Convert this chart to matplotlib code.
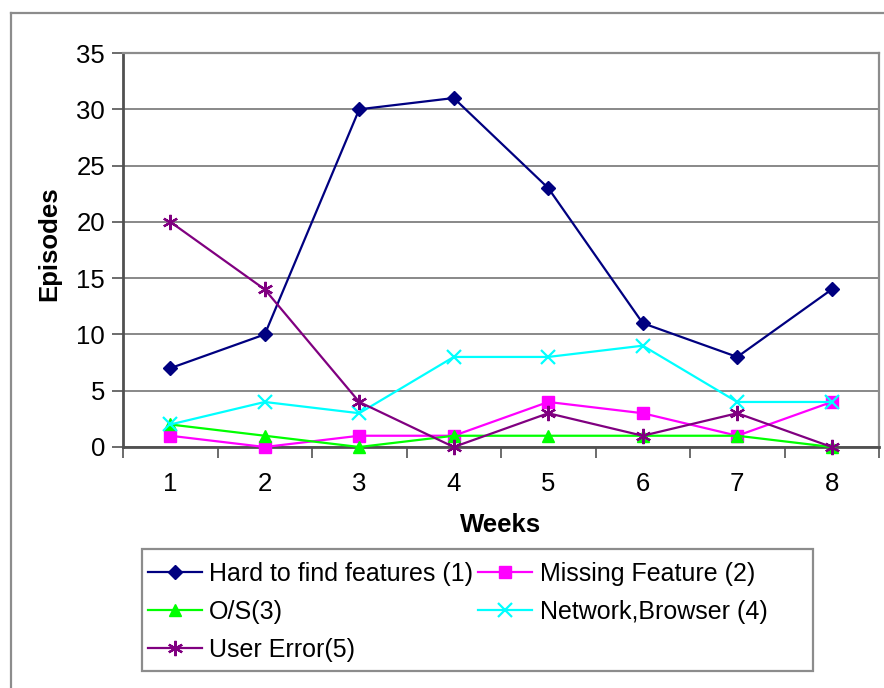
import numpy as np
import matplotlib
matplotlib.use("Agg")
import matplotlib.pyplot as plt
from matplotlib.lines import Line2D
from matplotlib.patches import Rectangle

plt.rcParams["font.family"] = ["Liberation Sans", "DejaVu Sans"]

weeks = [1, 2, 3, 4, 5, 6, 7, 8]
hard_to_find = [7, 10, 30, 31, 23, 11, 8, 14]
missing_feature = [1, 0, 1, 1, 4, 3, 1, 4]
os_problems = [2, 1, 0, 1, 1, 1, 1, 0]
network_browser = [2, 4, 3, 8, 8, 9, 4, 4]
user_error = [20, 14, 4, 0, 3, 1, 3, 0]

series = [
    ("Hard to find features (1)", hard_to_find, "#000080", "D", 7),
    ("Missing Feature (2)", missing_feature, "#FF00FF", "s", 8),
    ("O/S(3)", os_problems, "#00FF00", "^", 9),
    ("Network,Browser (4)", network_browser, "#00FFFF", "x", 10),
    ("User Error(5)", user_error, "#800080", (6, 2, 0), 11),
]

W, H = 884, 688
fig = plt.figure(figsize=(W / 100, H / 100), dpi=100)

# outer chart border (runs off the right and bottom edges)
fig.add_artist(Line2D([11 / W, 1.0], [1 - 13 / H, 1 - 13 / H], transform=fig.transFigure,
                      color="#8c8c8c", lw=1.6))
fig.add_artist(Line2D([11 / W, 11 / W], [0.0, 1 - 13 / H], transform=fig.transFigure,
                      color="#8c8c8c", lw=1.6))

ax = fig.add_axes([123 / W, 1 - 447 / H, (879 - 123) / W, (447 - 53) / H])

handles = {}
for label, vals, color, marker, ms in series:
    mew = 1.6 if marker in ("x", (6, 2, 0)) else 1.0
    (ln,) = ax.plot(weeks, vals, color=color, lw=1.6, marker=marker, markersize=ms,
                    markeredgewidth=mew, label=label, clip_on=False, zorder=3)
    handles[label] = ln

ax.set_xlim(0.5, 8.5)
ax.set_ylim(0, 35)
ax.set_yticks(np.arange(0, 36, 5))
ax.yaxis.grid(True, color="#7f7f7f", lw=1.3)
ax.set_axisbelow(True)

# category ticks sit between weeks, labels at the week centres
ax.set_xticks(np.arange(0.5, 9.0, 1.0))
ax.set_xticklabels([])
ax.set_xticks(weeks, minor=True)
ax.set_xticklabels([str(w) for w in weeks], minor=True)
ax.tick_params(axis="x", which="major", length=8, width=1.3, color="#606060", direction="out")
ax.tick_params(axis="x", which="minor", length=0, labelsize=18.5, pad=18)
ax.tick_params(axis="y", length=8, width=1.3, color="#606060", labelsize=18.5, pad=5)

for side in ("top", "right"):
    ax.spines[side].set_color("#8c8c8c")
    ax.spines[side].set_linewidth(1.6)
ax.spines["left"].set_color("#505050")
ax.spines["left"].set_linewidth(2.0)
ax.spines["bottom"].set_color("#505050")
ax.spines["bottom"].set_linewidth(2.0)

ax.set_xlabel("Weeks", fontsize=18.5, fontweight="bold", labelpad=12)
ax.set_ylabel("Episodes", fontsize=18.5, fontweight="bold", labelpad=11)
ax.yaxis.label.set_y(0.515)

# legend box
fig.add_artist(Rectangle((142 / W, 1 - 671 / H), (813 - 142) / W, (671 - 549) / H,
                         transform=fig.transFigure, fill=False, edgecolor="#8c8c8c", lw=1.6))
order = ["Hard to find features (1)", "O/S(3)", "User Error(5)",
         "Missing Feature (2)", "Network,Browser (4)"]
fig.legend([handles[k] for k in order], order, ncol=2, frameon=False,
           loc="upper left", bbox_to_anchor=(148 / W, 1 - 562 / H),
           fontsize=18, handlelength=2.15, handletextpad=0.3,
           columnspacing=0.2, labelspacing=0.55, borderpad=0.0, borderaxespad=0.0)

fig.savefig("out.png", dpi=100)
